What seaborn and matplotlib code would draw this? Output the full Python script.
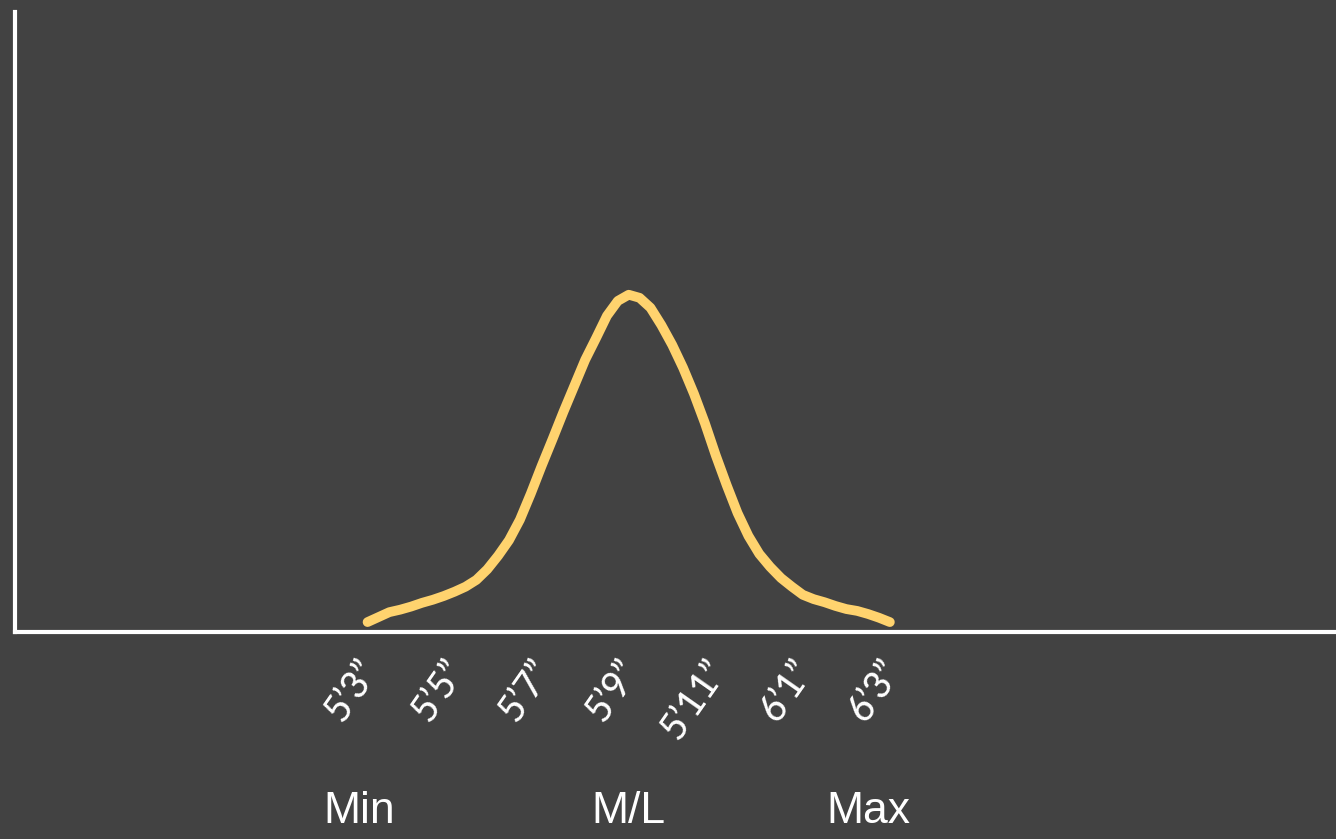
import numpy as np
import pandas as pd
import matplotlib.pyplot as plt
import matplotlib.transforms as mtransforms
import seaborn as sns

# height distribution curve (inches vs relative density)
heights = [63.00, 63.25, 63.50, 63.75, 64.00, 64.25, 64.50, 64.75, 65.00, 65.25,
           65.50, 65.75, 66.00, 66.25, 66.50, 66.75, 67.00, 67.25, 67.50, 67.75,
           68.00, 68.25, 68.50, 68.75, 69.00, 69.25, 69.50, 69.75, 70.00, 70.25,
           70.50, 70.75, 71.00, 71.25, 71.50, 71.75, 72.00, 72.25, 72.50, 72.75,
           73.00, 73.25, 73.50, 73.75, 74.00, 74.25, 74.50, 74.75, 75.00]
density = [0.016, 0.024, 0.032, 0.036, 0.041, 0.047, 0.052, 0.058, 0.065, 0.073,
           0.084, 0.101, 0.123, 0.148, 0.181, 0.223, 0.268, 0.311, 0.355, 0.397,
           0.439, 0.474, 0.510, 0.534, 0.544, 0.539, 0.523, 0.495, 0.463, 0.426,
           0.384, 0.337, 0.285, 0.237, 0.192, 0.155, 0.126, 0.105, 0.087, 0.073,
           0.060, 0.053, 0.048, 0.042, 0.037, 0.034, 0.029, 0.023, 0.016]

tick_inches = [63, 65, 67, 69, 71, 73, 75]
tick_labels = ["5’3”", "5’5”", "5’7”", "5’9”", "5’11”", "6’1”", "6’3”"]

marker_labels = ["Min", "M/L", "Max"]
marker_inches = [62.8, 69.0, 74.5]

df = pd.DataFrame({"height": heights, "density": density})

bg = "#424242"
curve_color = "#FFD36E"

sns.set_style("white", {"axes.facecolor": bg, "figure.facecolor": bg})
plt.rcParams["font.family"] = ["Lato", "DejaVu Sans"]

fig = plt.figure(figsize=(13.36, 8.39), dpi=100)
ax = fig.add_axes([15 / 1336, 1 - 632 / 839, 1 - 15 / 1336, 620 / 839])

sns.lineplot(data=df, x="height", y="density", color=curve_color, linewidth=7, ax=ax)
for ln in ax.lines:
    ln.set_solid_capstyle("round")
    ln.set_solid_joinstyle("round")

ax.set_xlim(54.9, 85.25)
ax.set_ylim(0, 1.0)

for side in ["top", "right"]:
    ax.spines[side].set_visible(False)
for side in ["left", "bottom"]:
    ax.spines[side].set_color("white")
    ax.spines[side].set_linewidth(3)
    ax.spines[side].set_capstyle("projecting")

ax.set_yticks([])
ax.set_xticks(tick_inches)
ax.set_xticklabels(tick_labels, rotation=55, ha="right", color="white", fontsize=27,
                   fontweight="medium")
ax.tick_params(axis="x", length=0, pad=16)
shift = mtransforms.ScaledTranslation(18 / 100, 0, fig.dpi_scale_trans)
for lbl in ax.get_xticklabels():
    lbl.set_transform(lbl.get_transform() + shift)
ax.set_xlabel("")
ax.set_ylabel("")

for lab, xv in zip(marker_labels, marker_inches):
    ax.text(xv, -0.29, lab, ha="center", va="center",
            color="white", fontsize=32, family=["Liberation Sans", "DejaVu Sans"],
            clip_on=False)

fig.savefig("out.png", dpi=100, facecolor=bg)
